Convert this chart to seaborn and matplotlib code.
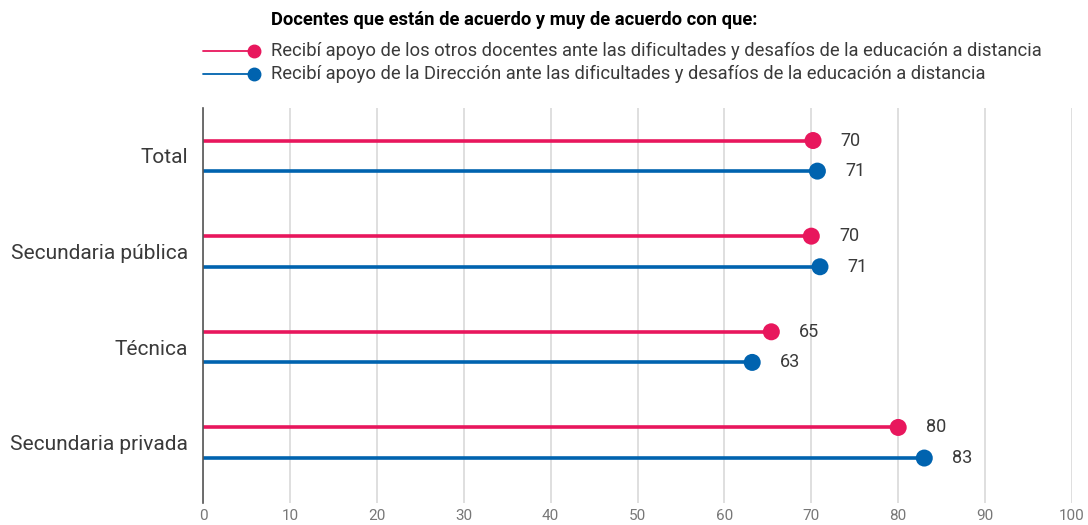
import pandas as pd
import matplotlib.pyplot as plt
import seaborn as sns
from matplotlib.lines import Line2D

# datos
categorias = ['Total', 'Secundaria pública', 'Técnica', 'Secundaria privada']
docentes = [70.2, 70.0, 65.4, 80.0]
direccion = [70.7, 71.0, 63.2, 83.0]
etiquetas_docentes = ['70', '70', '65', '80']
etiquetas_direccion = ['71', '71', '63', '83']
series = ['Recibí apoyo de los otros docentes ante las dificultades y desafíos de la educación a distancia',
          'Recibí apoyo de la Dirección ante las dificultades y desafíos de la educación a distancia']
titulo = 'Docentes que están de acuerdo y muy de acuerdo con que:'

rosa = '#E8175D'
azul = '#0063AF'
gris_texto = '#3a3a3a'

sns.set_style('white')
plt.rcParams['font.family'] = ['Roboto', 'DejaVu Sans']

df = pd.DataFrame({
    'pos': list(range(len(categorias))) * 2,
    'valor': docentes + direccion,
    'etiqueta': etiquetas_docentes + etiquetas_direccion,
    'serie': [series[0]] * 4 + [series[1]] * 4,
})
desplaz = {series[0]: -0.16, series[1]: 0.16}
df['y'] = df['pos'] + df['serie'].map(desplaz)

fig = plt.figure(figsize=(10.88, 5.25), dpi=100)
ax = fig.add_axes([203 / 1088, 22 / 525, 869 / 1088, 395 / 525])

colores = {series[0]: rosa, series[1]: azul}
for s in series:
    d = df[df['serie'] == s]
    ax.hlines(d['y'], 0, d['valor'], color=colores[s], linewidth=2.6, zorder=2)
sns.scatterplot(data=df, x='valor', y='y', hue='serie', palette=colores,
                s=150, edgecolor='none', legend=False, ax=ax, zorder=3)

for _, r in df.iterrows():
    ax.annotate(r['etiqueta'], (r['valor'], r['y']), xytext=(20, 0),
                textcoords='offset points', va='center', ha='left',
                fontsize=13, color=gris_texto)

ax.set_xlim(0, 100)
ax.set_ylim(3.63, -0.5)
ax.set_xticks(range(0, 101, 10))
ax.set_yticks(range(len(categorias)))
ax.set_yticklabels(categorias, fontsize=15, color=gris_texto)
ax.tick_params(axis='x', length=0, labelsize=11, labelcolor='#777777', pad=4)
ax.tick_params(axis='y', length=0, pad=11)
ax.grid(axis='x', color='#d9d9d9', linewidth=1.2)
ax.set_axisbelow(True)
for lado in ['top', 'right', 'bottom']:
    ax.spines[lado].set_visible(False)
ax.spines['left'].set_color('#555555')
ax.spines['left'].set_linewidth(1.2)
ax.set_xlabel('')
ax.set_ylabel('')

# leyenda manual
fig.text(271 / 1088, 1 - 20 / 525, titulo, fontsize=13.2, fontweight='bold',
         color='black', va='center', ha='left')
for i, s in enumerate(series):
    yy = 1 - (51 + 23 * i) / 525
    fig.add_artist(Line2D([203 / 1088, 254 / 1088], [yy, yy], color=colores[s],
                          linewidth=1.3, transform=fig.transFigure))
    fig.add_artist(Line2D([254 / 1088], [yy], color=colores[s], marker='o',
                          markersize=9, linestyle='none', transform=fig.transFigure))
    fig.text(271 / 1088, yy, s, fontsize=13.2, color=gris_texto,
             va='center', ha='left')

plt.savefig('out.png', dpi=100)
